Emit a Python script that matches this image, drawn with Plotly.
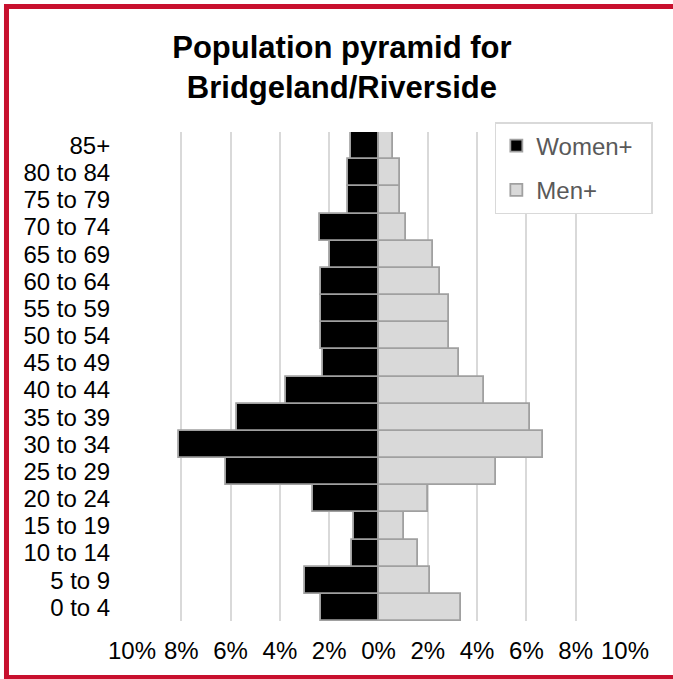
import plotly.graph_objects as go

# age groups, bottom to top
age_groups = ['0 to 4', '5 to 9', '10 to 14', '15 to 19', '20 to 24', '25 to 29',
              '30 to 34', '35 to 39', '40 to 44', '45 to 49', '50 to 54', '55 to 59',
              '60 to 64', '65 to 69', '70 to 74', '75 to 79', '80 to 84', '85+']
# share of population (%)
women = [2.35, 2.98, 1.09, 0.98, 2.67, 6.19, 8.10, 5.73, 3.76, 2.26,
         2.35, 2.35, 2.35, 1.97, 2.36, 1.24, 1.24, 1.10]
men = [3.33, 2.09, 1.60, 1.04, 2.00, 4.77, 6.67, 6.16, 4.28, 3.26,
       2.86, 2.87, 2.48, 2.22, 1.12, 0.89, 0.88, 0.58]

tick_vals = [-10, -8, -6, -4, -2, 0, 2, 4, 6, 8, 10]
tick_text = ['10%', '8%', '6%', '4%', '2%', '0%', '2%', '4%', '6%', '8%', '10%']

FONT = 'Liberation Sans, Arial, sans-serif'

fig = go.Figure()
# non-breaking spaces widen the legend box a little, like the original
fig.add_trace(go.Bar(
    y=age_groups, x=[-v for v in women], orientation='h', name='Women+\u00a0\u00a0',
    legendgroup='w', customdata=women, hovertemplate='%{y}: %{customdata}%<extra>Women+</extra>',
    marker=dict(color='#000000', line=dict(color='#a0a0a0', width=1.8)),
))
fig.add_trace(go.Bar(
    y=age_groups, x=men, orientation='h', name='Men+',
    legendgroup='m', hovertemplate='%{y}: %{x}%<extra>Men+</extra>',
    marker=dict(color='#d9d9d9', line=dict(color='#a0a0a0', width=1.8)),
))

fig.update_layout(
    width=673, height=679,
    barmode='relative', bargap=0,
    paper_bgcolor='white', plot_bgcolor='white',
    font=dict(family=FONT, size=24, color='#000000'),
    margin=dict(l=132, r=48, t=132, b=58),
    title=dict(
        text='<b>Population pyramid for<br>Bridgeland/Riverside</b>',
        font=dict(family=FONT, size=31, color='#000000'),
        x=0.508, xanchor='center', xref='container',
        y=0.915, yanchor='top', yref='container',
    ),
    legend=dict(
        x=0.736, y=1.0204, xanchor='left', yanchor='top',
        bgcolor='white', bordercolor='#d9d9d9', borderwidth=1.5,
        font=dict(family=FONT, size=24, color='#595959'),
        tracegroupgap=10, traceorder='grouped',
    ),
    xaxis=dict(
        range=[-10, 10], tickvals=tick_vals, ticktext=tick_text,
        showgrid=True, gridcolor='#d9d9d9', gridwidth=1.5,
        zeroline=False, showline=False,
        ticks='outside', ticklen=8, tickcolor='rgba(0,0,0,0)',
        tickfont=dict(size=24),
    ),
    yaxis=dict(
        tickmode='array', tickvals=age_groups, ticktext=age_groups,
        showgrid=False, zeroline=False, showline=False,
        ticks='outside', ticklen=16, tickcolor='rgba(0,0,0,0)',
        tickfont=dict(size=24),
    ),
    shapes=[dict(
        type='rect', xref='paper', yref='paper',
        x0=-0.2546, x1=1.16, y0=-0.1155, y1=1.2566,
        line=dict(color='#c8102e', width=5), layer='above',
    )],
)

# drop the browser's default 8px page margin so the figure sits at the window origin
fig.write_html('out.html', config={'displayModeBar': False},
               post_script="document.body.style.margin='0px';")
